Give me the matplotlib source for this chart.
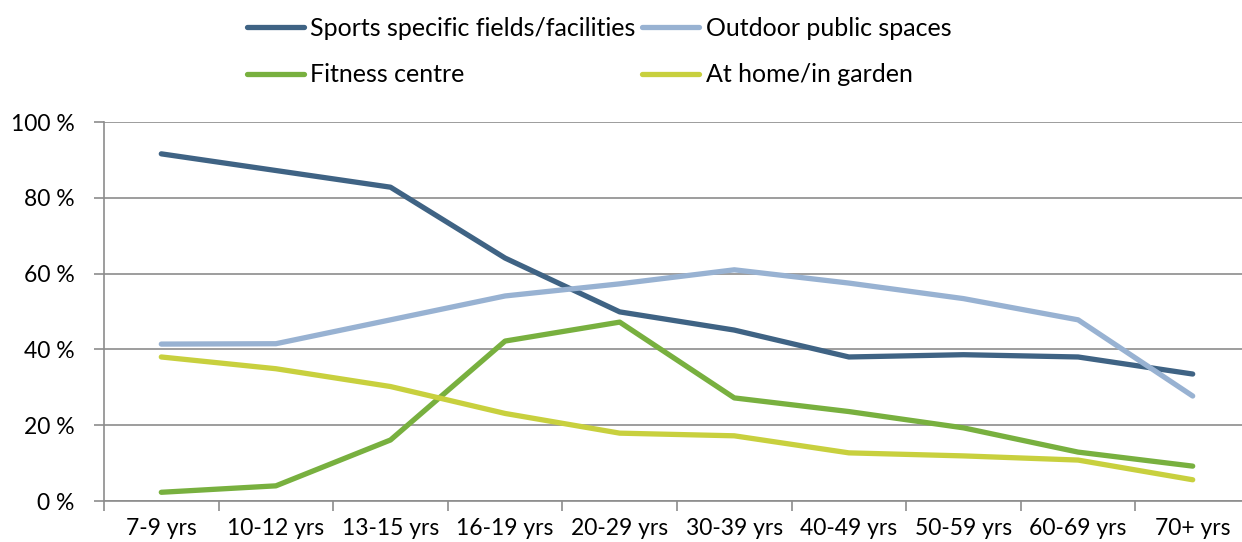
import numpy as np
import matplotlib.pyplot as plt
from matplotlib.ticker import FixedLocator

plt.rcParams['font.family'] = ['Lato', 'DejaVu Sans']

age_groups = ['7-9 yrs', '10-12 yrs', '13-15 yrs', '16-19 yrs', '20-29 yrs',
              '30-39 yrs', '40-49 yrs', '50-59 yrs', '60-69 yrs', '70+ yrs']
sports_fields = [91.6, 87.2, 82.8, 64.1, 49.9, 45.1, 38.0, 38.6, 38.0, 33.5]
outdoor_spaces = [41.4, 41.5, 47.8, 54.1, 57.3, 61.0, 57.5, 53.4, 47.8, 27.7]
fitness_centre = [2.3, 4.0, 16.1, 42.2, 47.2, 27.2, 23.6, 19.3, 12.9, 9.2]
home_garden = [38.0, 34.9, 30.2, 23.1, 17.9, 17.2, 12.7, 11.9, 10.8, 5.6]

W, H = 1242, 542
fig = plt.figure(figsize=(W / 100, H / 100), dpi=100)
# plot area runs a little past the right edge of the figure
ax = fig.add_axes([104 / W, (H - 501) / H, (1250 - 104) / W, (501 - 122) / H])

x = np.arange(len(age_groups))
lw = 3.8
l1, = ax.plot(x, sports_fields, color='#3f6384', lw=lw, solid_capstyle='round',
              solid_joinstyle='round', label='Sports specific fields/facilities')
l2, = ax.plot(x, outdoor_spaces, color='#98b2d2', lw=lw, solid_capstyle='round',
              solid_joinstyle='round', label='Outdoor public spaces')
l3, = ax.plot(x, fitness_centre, color='#78b03f', lw=lw, solid_capstyle='round',
              solid_joinstyle='round', label='Fitness centre')
l4, = ax.plot(x, home_garden, color='#c8d03e', lw=lw, solid_capstyle='round',
              solid_joinstyle='round', label='At home/in garden')
for l in (l1, l2, l3, l4):
    l.set_zorder(3)

tick_size = 16.5

ax.set_xlim(-0.5, len(age_groups) - 0.5)
ax.set_ylim(0, 100)
ax.set_yticks(np.arange(0, 101, 20))
ax.set_yticklabels([f'{v} %' for v in range(0, 101, 20)], fontsize=tick_size)
ax.yaxis.grid(True, color='#8c8c8c', lw=1.2)
ax.set_axisbelow(True)

ax.xaxis.set_major_locator(FixedLocator(np.arange(-0.5, len(age_groups), 1)))
ax.xaxis.set_minor_locator(FixedLocator(x))
ax.set_xticklabels([], minor=False)
ax.set_xticklabels(age_groups, minor=True, fontsize=tick_size)
ax.tick_params(axis='x', which='major', length=7, width=1.2, color='#8c8c8c', direction='out')
ax.tick_params(axis='x', which='minor', length=0, pad=12)
ax.tick_params(axis='y', length=7, width=1.2, color='#8c8c8c', pad=14)

for side in ('top', 'right'):
    ax.spines[side].set_visible(False)
for side in ('left', 'bottom'):
    ax.spines[side].set_color('#8c8c8c')
    ax.spines[side].set_linewidth(1.2)

fig.legend(handles=[l1, l3, l2, l4], ncol=2, loc='upper left',
           bbox_to_anchor=(224 / W, 1.0 + 6 / H), frameon=False, fontsize=18,
           handlelength=2.3, handletextpad=0.25, columnspacing=0.25,
           labelspacing=0.95, borderaxespad=0.5)

fig.savefig('out.png', dpi=100)
